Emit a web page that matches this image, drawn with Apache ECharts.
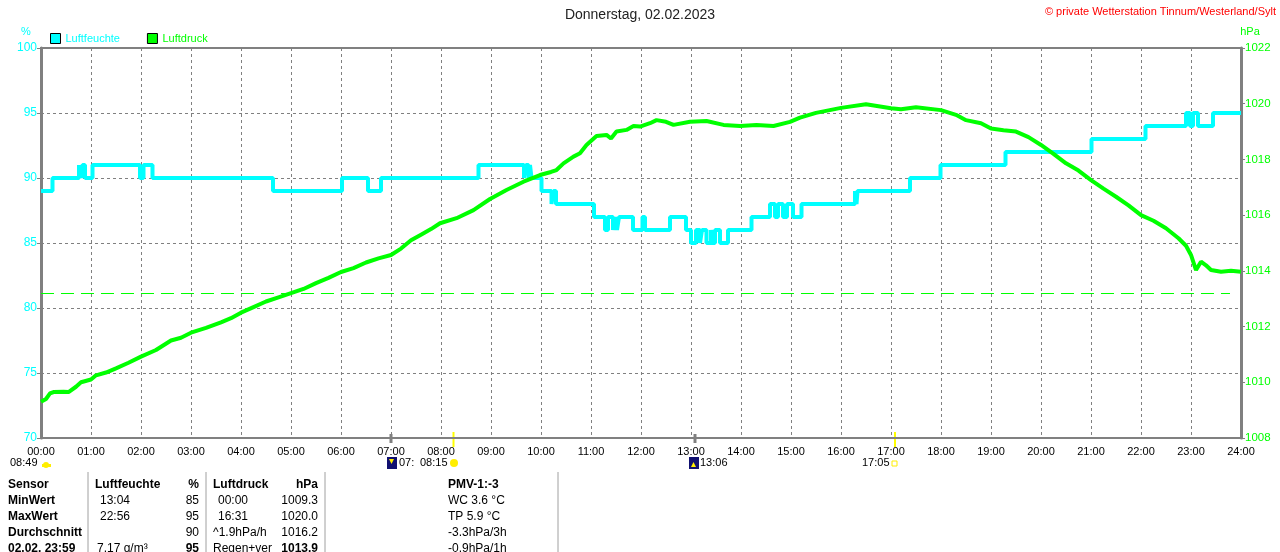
<!DOCTYPE html>
<html>
<head>
<meta charset="utf-8">
<script src="https://cdn.jsdelivr.net/npm/echarts@6/dist/echarts.min.js"></script>
<style>
  html, body { margin: 0; padding: 0; background: #fff; }
  #chart { width: 1280px; height: 552px; }
</style>
</head>
<body>
<div id="chart"></div>
<script>
// tick labels
const hourLabels = ['00:00','01:00','02:00','03:00','04:00','05:00','06:00','07:00','08:00','09:00','10:00','11:00','12:00',
  '13:00','14:00','15:00','16:00','17:00','18:00','19:00','20:00','21:00','22:00','23:00','24:00'];

// Luftfeuchte (%): [hour, value], value holds until next point
const humidity = [
  [0.00, 89], [0.23, 90], [0.76, 91], [0.80, 90], [0.83, 91], [0.88, 90], [1.03, 91],
  [1.98, 90], [2.05, 91], [2.23, 90], [4.64, 89], [6.02, 90], [6.54, 89], [6.80, 90],
  [8.75, 91], [9.66, 90], [9.70, 91], [9.75, 90], [9.78, 91], [9.81, 90], [10.01, 89],
  [10.21, 88], [10.25, 89], [10.30, 88], [11.06, 87], [11.28, 86], [11.34, 87], [11.44, 86],
  [11.48, 87], [11.52, 86], [11.56, 87], [11.84, 86], [12.03, 87], [12.08, 86], [12.58, 87],
  [12.90, 86], [13.00, 85], [13.10, 86], [13.18, 85], [13.22, 86], [13.31, 85], [13.40, 86],
  [13.43, 85], [13.48, 86], [13.58, 85], [13.74, 86], [14.21, 87], [14.58, 88], [14.68, 87],
  [14.74, 88], [14.84, 87], [14.92, 88], [15.04, 87], [15.21, 88], [16.28, 89], [16.31, 88],
  [16.33, 89], [17.38, 90], [17.99, 91], [19.29, 92], [21.01, 93], [22.09, 94], [22.90, 95],
  [22.98, 94], [23.04, 95], [23.14, 94], [23.44, 95], [24.00, 95]
];

// Luftdruck (hPa): [hour, value]
const pressure = [
  [0.00, 1009.3], [0.10, 1009.4], [0.18, 1009.6], [0.25, 1009.65], [0.45, 1009.66], [0.55, 1009.65],
  [0.70, 1009.84], [0.80, 1010.0], [1.00, 1010.1], [1.10, 1010.25], [1.30, 1010.35], [1.50, 1010.5],
  [1.75, 1010.7], [2.00, 1010.92], [2.30, 1011.16], [2.60, 1011.5], [2.80, 1011.6], [3.00, 1011.78],
  [3.30, 1011.95], [3.60, 1012.15], [3.80, 1012.3], [4.00, 1012.5], [4.25, 1012.7], [4.50, 1012.9],
  [4.75, 1013.05], [5.00, 1013.2], [5.25, 1013.35], [5.50, 1013.56], [5.75, 1013.75], [6.00, 1013.96],
  [6.25, 1014.1], [6.50, 1014.3], [6.75, 1014.45], [7.00, 1014.57], [7.20, 1014.8], [7.40, 1015.1],
  [7.60, 1015.3], [7.80, 1015.5], [7.98, 1015.71], [8.31, 1015.89], [8.65, 1016.18], [8.98, 1016.58],
  [9.31, 1016.9], [9.65, 1017.2], [9.98, 1017.44], [10.20, 1017.55], [10.31, 1017.62], [10.35, 1017.55],
  [10.45, 1017.86], [10.65, 1018.1], [10.78, 1018.22], [10.91, 1018.52], [11.11, 1018.84], [11.31, 1018.88],
  [11.40, 1018.75], [11.51, 1019.0], [11.71, 1019.06], [11.85, 1019.2], [11.98, 1019.18], [12.18, 1019.3],
  [12.31, 1019.41], [12.50, 1019.35], [12.65, 1019.24], [12.98, 1019.35], [13.31, 1019.38], [13.65, 1019.24],
  [13.98, 1019.2], [14.31, 1019.24], [14.65, 1019.2], [14.98, 1019.35], [15.18, 1019.5], [15.50, 1019.67],
  [16.00, 1019.85], [16.50, 1019.98], [17.00, 1019.84], [17.20, 1019.8], [17.50, 1019.87], [18.00, 1019.77],
  [18.30, 1019.6], [18.50, 1019.41], [18.80, 1019.3], [19.00, 1019.11], [19.25, 1019.05], [19.50, 1019.0],
  [19.75, 1018.8], [20.00, 1018.52], [20.25, 1018.2], [20.50, 1017.86], [20.75, 1017.6], [21.00, 1017.26],
  [21.25, 1016.95], [21.50, 1016.66], [21.75, 1016.35], [22.00, 1016.0], [22.25, 1015.8], [22.50, 1015.53],
  [22.75, 1015.17], [22.90, 1014.9], [23.00, 1014.57], [23.10, 1014.03], [23.20, 1014.33], [23.30, 1014.2],
  [23.40, 1014.03], [23.60, 1013.97], [23.80, 1014.0], [24.00, 1013.97]
];

const refPressure = 1013.2;   // long-dash reference line
const refEnd = 23.78;

// table below the chart
const tableHead = ['Sensor', 'Luftfeuchte', '%', 'Luftdruck', 'hPa', 'PMV-1:-3'];
const rowNames = ['MinWert', 'MaxWert', 'Durchschnitt', '02.02. 23:59'];
const humTimes = ['13:04', '22:56', '', '7.17 g/m³'];
const humStats = ['85', '95', '90', '95'];
const presTimes = ['00:00', '16:31', '^1.9hPa/h', 'Regen+ver'];
const presStats = ['1009.3', '1020.0', '1016.2', '1013.9'];
const extraInfo = ['WC 3.6 °C', 'TP 5.9 °C', '-3.3hPa/3h', '-0.9hPa/1h'];

// sun / moon marks below the time axis
const moonTicks = [7.0, 13.08];
const sunTicks = [8.25, 17.08];

const FONT = 'Arial, "Liberation Sans", sans-serif';
const CYAN = '#00ffff', GREEN = '#00ff00', GRID = '#808080';

const chart = echarts.init(document.getElementById('chart'));

function txt(x, y, text, opt = {}) {
  return {
    type: 'text', x, y, silent: true,
    style: {
      text, fill: opt.color || '#000', fontFamily: FONT,
      fontSize: opt.size || 12, fontWeight: opt.bold ? 'bold' : 'normal',
      align: opt.align || 'left', verticalAlign: 'middle'
    }
  };
}

const option = {
  animation: false,
  backgroundColor: '#fff',
  grid: { left: 41, right: 39, top: 48, bottom: 114, show: true, borderColor: GRID, borderWidth: 2 },
  legend: {
    left: 45, top: 28, itemWidth: 10, itemHeight: 10, itemGap: 27, icon: 'rect',
    data: [
      { name: 'Luftfeuchte', itemStyle: { color: CYAN, borderColor: '#000', borderWidth: 1 }, textStyle: { color: CYAN } },
      { name: 'Luftdruck', itemStyle: { color: GREEN, borderColor: '#000', borderWidth: 1 }, textStyle: { color: GREEN } }
    ],
    textStyle: { fontFamily: FONT, fontSize: 11 },
    selectedMode: false
  },
  xAxis: {
    type: 'value', min: 0, max: 24, interval: 1,
    axisLine: { show: true, lineStyle: { color: GRID, width: 2 } },
    axisTick: { show: false },
    axisLabel: { color: '#000', fontFamily: FONT, fontSize: 11, margin: 8, formatter: v => hourLabels[v] },
    splitLine: { show: true, lineStyle: { color: GRID, type: [3, 3], width: 1 } }
  },
  yAxis: [
    {
      type: 'value', min: 70, max: 100, interval: 5, position: 'left',
      axisLine: { show: true, lineStyle: { color: GRID, width: 3 } },
      axisTick: { show: true, length: 4, lineStyle: { color: GRID, width: 1 } },
      axisLabel: { color: CYAN, fontFamily: FONT, fontSize: 12, margin: 4 },
      splitLine: { show: true, lineStyle: { color: GRID, type: [3, 3], width: 1 } }
    },
    {
      type: 'value', min: 1008, max: 1022, interval: 2, position: 'right',
      axisLine: { show: true, lineStyle: { color: GRID, width: 3 } },
      axisTick: { show: true, length: 4, lineStyle: { color: GRID, width: 1 } },
      axisLabel: { color: GREEN, fontFamily: FONT, fontSize: 11.5, margin: 4, formatter: v => String(v) },
      splitLine: { show: false }
    }
  ],
  series: [
    {
      name: 'Luftfeuchte', type: 'line', step: 'end', data: humidity,
      symbol: 'none', lineStyle: { color: CYAN, width: 4 }, itemStyle: { color: CYAN }
    },
    {
      name: 'Luftdruck', type: 'line', yAxisIndex: 1, data: pressure,
      symbol: 'none', lineStyle: { color: GREEN, width: 4 }, itemStyle: { color: GREEN },
      markLine: {
        silent: true, symbol: 'none', label: { show: false },
        lineStyle: { color: GREEN, type: [13, 7], width: 1 },
        data: [[{ coord: [0, refPressure] }, { coord: [refEnd, refPressure] }]]
      }
    }
  ]
};

chart.setOption(option);

// graphic overlay: titles, axis units, sun/moon marks and table
const g = [];
g.push(txt(640, 15, 'Donnerstag, 02.02.2023', { size: 14, align: 'center', color: '#222' }));
g.push(txt(1276, 12, '© private Wetterstation Tinnum/Westerland/Sylt', { size: 11, align: 'right', color: '#ff0000' }));
g.push(txt(26, 32, '%', { size: 11, align: 'center', color: CYAN }));
g.push(txt(1250, 32, 'hPa', { size: 11, align: 'center', color: GREEN }));

const axisY = chart.convertToPixel({ yAxisIndex: 0 }, 70);
moonTicks.forEach(t => {
  const x = chart.convertToPixel({ xAxisIndex: 0 }, t);
  g.push({ type: 'rect', silent: true, shape: { x: x - 1.5, y: axisY - 4, width: 3, height: 9 }, style: { fill: GRID } });
});
sunTicks.forEach(t => {
  const x = chart.convertToPixel({ xAxisIndex: 0 }, t);
  g.push({ type: 'rect', silent: true, shape: { x: x - 1, y: axisY - 6, width: 2, height: 15 }, style: { fill: '#ffff00' } });
});

// annotations row
const annY = 463;
g.push(txt(10, annY, '08:49', { size: 11 }));
g.push({ type: 'circle', silent: true, shape: { cx: 46, cy: annY + 2, r: 3 }, style: { fill: '#ffee00' } });
g.push({ type: 'rect', silent: true, shape: { x: 42, y: annY + 1, width: 9, height: 3 }, style: { fill: '#ffee00' } });
g.push({ type: 'rect', silent: true, shape: { x: 387, y: annY - 6, width: 10, height: 12 }, style: { fill: '#101070' } });
g.push({ type: 'polygon', silent: true, shape: { points: [[389, annY - 4], [394, annY - 4], [391.5, annY + 1]] }, style: { fill: '#ffee00' } });
g.push(txt(399, annY, '07:', { size: 11 }));
g.push(txt(420, annY, '08:15', { size: 11 }));
g.push({ type: 'circle', silent: true, shape: { cx: 454, cy: annY, r: 4 }, style: { fill: '#ffee00' } });
g.push({ type: 'rect', silent: true, shape: { x: 689, y: annY - 6, width: 10, height: 12 }, style: { fill: '#101070' } });
g.push({ type: 'polygon', silent: true, shape: { points: [[691, annY + 4], [696, annY + 4], [693.5, annY - 1]] }, style: { fill: '#ffee00' } });
g.push(txt(700, annY, '13:06', { size: 11 }));
g.push(txt(862, annY, '17:05', { size: 11 }));
g.push({ type: 'rect', silent: true, shape: { x: 892, y: annY - 2, width: 5, height: 5 }, style: { fill: 'none', stroke: '#ffee00', lineWidth: 1 } });

// table
[88, 206, 325, 558].forEach(x => {
  g.push({ type: 'line', silent: true, shape: { x1: x, y1: 472, x2: x, y2: 552 }, style: { stroke: '#a0a0a0', lineWidth: 1 } });
});
const headY = 485;
g.push(txt(8, headY, tableHead[0], { bold: true }));
g.push(txt(95, headY, tableHead[1], { bold: true }));
g.push(txt(199, headY, tableHead[2], { bold: true, align: 'right' }));
g.push(txt(213, headY, tableHead[3], { bold: true }));
g.push(txt(318, headY, tableHead[4], { bold: true, align: 'right' }));
g.push(txt(448, headY, tableHead[5], { bold: true }));
rowNames.forEach((name, i) => {
  const y = headY + 16 * (i + 1);
  const last = i === rowNames.length - 1;
  g.push(txt(8, y, name, { bold: true }));
  g.push(txt(last ? 97 : 100, y, humTimes[i]));
  g.push(txt(199, y, humStats[i], { align: 'right', bold: last }));
  g.push(txt(i < 2 ? 218 : 213, y, presTimes[i]));
  g.push(txt(318, y, presStats[i], { align: 'right', bold: last }));
  g.push(txt(448, y, extraInfo[i]));
});

chart.setOption({ graphic: g });
</script>
</body>
</html>
